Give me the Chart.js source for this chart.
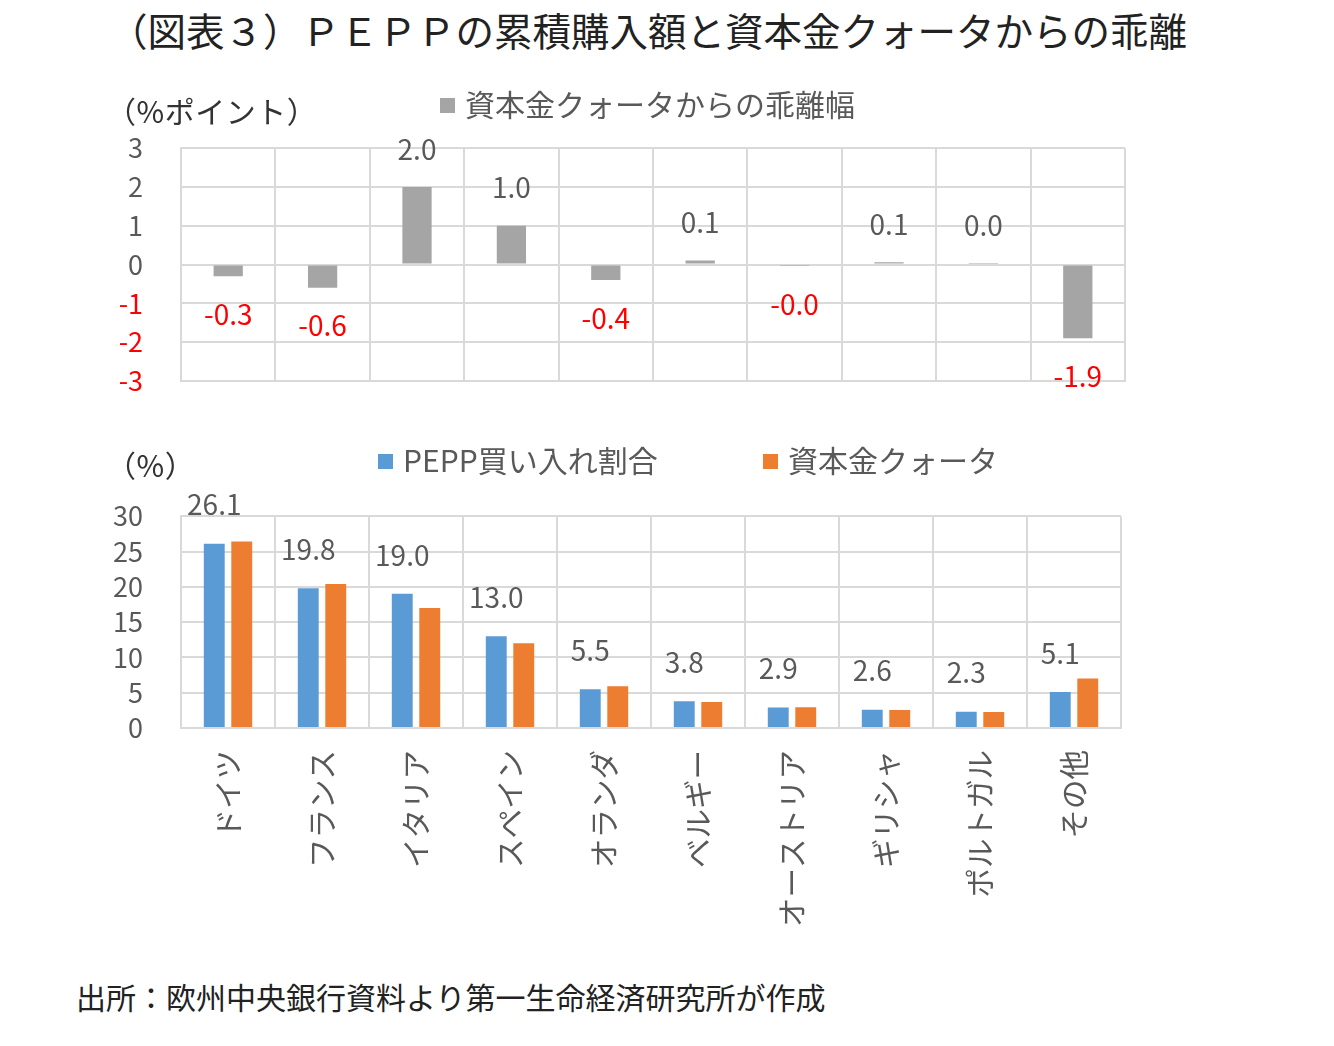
<!DOCTYPE html>
<html lang="ja">
<head>
<meta charset="utf-8">
<script src="https://cdn.jsdelivr.net/npm/chart.js@4/dist/chart.umd.min.js"></script>
<style>
  html, body { margin: 0; padding: 0; background: #fff; }
  body { width: 1334px; height: 1046px; position: relative; overflow: hidden;
         font-family: "Noto Sans CJK JP", "Noto Sans", sans-serif; }
  .abs { position: absolute; white-space: nowrap; line-height: 1; }
  .title { left: 109px; top: 10px; font-size: 38.5px; color: #222; }
  .axis-title { font-size: 30px; color: #333; letter-spacing: 0.5px; }
  .legend { font-size: 30px; color: #595959; }
  .legend i { display: inline-block; width: 15px; height: 15px; margin-right: 10px; vertical-align: 3px; }
  .note { left: 76px; top: 981px; font-size: 30px; color: #222; }
  .box { position: absolute; left: 0; width: 1334px; }
</style>
</head>
<body>
<div class="box" style="top:94px;height:341px"><canvas id="gapChart"></canvas></div>
<div class="box" style="top:462px;height:486px"><canvas id="shareChart"></canvas></div>

<div class="abs title">（図表３）ＰＥＰＰの累積購入額と資本金クォータからの乖離</div>
<div class="abs axis-title" style="left:106px;top:95px">（%ポイント）</div>
<div class="abs legend" style="left:440px;top:88px"><i style="background:#A5A5A5"></i>資本金クォータからの乖離幅</div>
<div class="abs axis-title" style="left:106px;top:449px">（%）</div>
<div class="abs legend" style="left:378px;top:444px"><i style="background:#5B9BD5"></i>PEPP買い入れ割合</div>
<div class="abs legend" style="left:763px;top:444px"><i style="background:#ED7D31"></i>資本金クォータ</div>
<div class="abs note">出所：欧州中央銀行資料より第一生命経済研究所が作成</div>

<script>
const categories = ['ドイツ', 'フランス', 'イタリア', 'スペイン', 'オランダ', 'ベルギー', 'オーストリア', 'ギリシャ', 'ポルトガル', 'その他'];
// 乖離幅（%ポイント）
const gapValues = [-0.3, -0.6, 2.0, 1.0, -0.4, 0.1, -0.04, 0.06, 0.04, -1.9];
// PEPP買い入れ割合（%）
const peppShare = [26.1, 19.8, 19.0, 13.0, 5.5, 3.8, 2.9, 2.6, 2.3, 5.1];
// 資本金クォータ（%）
const capitalKey = [26.4, 20.4, 17.0, 12.0, 5.9, 3.7, 2.94, 2.54, 2.26, 7.0];
const gapAxis = { min: -3, max: 3, step: 1 };
const shareAxis = { min: 0, max: 30, step: 5 };

const FONT = '"Noto Sans CJK JP", "Noto Sans", sans-serif';
const GRID = '#D9D9D9';
const TEXT = '#595959';
Chart.defaults.font.family = FONT;
Chart.defaults.animation = false;

/* 棒の上下に数値ラベル */
const valueLabels = {
  id: 'valueLabels',
  afterDatasetsDraw(chart, args, opts) {
    const meta = chart.getDatasetMeta(opts.dataset);
    const data = chart.data.datasets[opts.dataset].data;
    const ctx = chart.ctx;
    ctx.save();
    ctx.font = `28px ${FONT}`;
    ctx.textAlign = 'center';
    ctx.textBaseline = 'middle';
    meta.data.forEach((bar, i) => {
      const v = data[i];
      ctx.fillStyle = v < 0 ? '#FF0000' : TEXT;
      const y = v < 0 ? bar.y + opts.offset : bar.y - opts.offset;
      ctx.fillText(v.toFixed(1), bar.x, y);
    });
    ctx.restore();
  }
};

// 縦軸の幅は固定（プロット左端 x=181）
function yScale(range, tickColor) {
  return {
    min: range.min, max: range.max,
    afterFit: s => { s.width = 181; },
    ticks: { stepSize: range.step, autoSkip: false, padding: 38, color: tickColor, font: { size: 27 } },
    grid: { color: GRID, lineWidth: 2, drawTicks: false },
    border: { color: GRID, width: 2 }
  };
}

new Chart(document.getElementById('gapChart'), {
  type: 'bar',
  data: {
    labels: categories,
    datasets: [{ label: '資本金クォータからの乖離幅', data: gapValues, backgroundColor: '#A5A5A5',
                 barPercentage: 0.31, categoryPercentage: 1 }]
  },
  options: {
    responsive: true, maintainAspectRatio: false,
    layout: { padding: { left: 0, right: 209, top: 0, bottom: 0 } },
    plugins: { legend: { display: false }, tooltip: { enabled: false }, valueLabels: { dataset: 0, offset: 38 } },
    scales: {
      x: {
        afterFit: s => { s.height = 29; },
        ticks: { display: false },
        grid: { color: GRID, lineWidth: 2, drawTicks: false },
        border: { color: GRID, width: 2 }
      },
      y: yScale(gapAxis, c => c.tick.value < 0 ? '#FF0000' : TEXT)
    }
  },
  plugins: [valueLabels]
});

new Chart(document.getElementById('shareChart'), {
  type: 'bar',
  data: {
    labels: categories,
    datasets: [
      { label: 'PEPP買い入れ割合', data: peppShare, backgroundColor: '#5B9BD5', barPercentage: 0.76, categoryPercentage: 0.585 },
      { label: '資本金クォータ', data: capitalKey, backgroundColor: '#ED7D31', barPercentage: 0.76, categoryPercentage: 0.585 }
    ]
  },
  options: {
    responsive: true, maintainAspectRatio: false,
    layout: { padding: { left: 0, right: 213, top: 0, bottom: 0 } },
    plugins: { legend: { display: false }, tooltip: { enabled: false }, valueLabels: { dataset: 0, offset: 39 } },
    scales: {
      x: {
        afterFit: s => { s.height = 220; },
        ticks: { minRotation: 90, maxRotation: 90, autoSkip: false, padding: 22, color: TEXT, font: { size: 29.5 } },
        grid: { color: GRID, lineWidth: 2, drawTicks: false },
        border: { color: GRID, width: 2 }
      },
      y: yScale(shareAxis, TEXT)
    }
  },
  plugins: [valueLabels]
});
</script>
</body>
</html>
